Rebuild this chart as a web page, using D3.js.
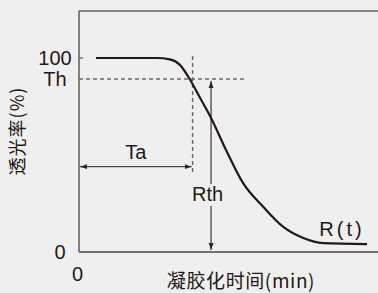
<!DOCTYPE html>
<html>
<head>
<meta charset="utf-8">
<script src="https://cdn.jsdelivr.net/npm/d3@7.9.0/dist/d3.min.js"></script>
<style>
  html, body { margin: 0; padding: 0; background: #efefef; }
  svg { display: block; }
  text { font-family: "Liberation Sans", Arial, sans-serif; fill: #231815; }
  .cjk { font-family: "Noto Sans CJK SC", "Noto Sans", sans-serif; }
</style>
</head>
<body>
<svg id="chart"></svg>
<script>
// gel time (min, arbitrary) vs transmittance (%)
const times = [1.7, 7.8, 9.1, 10.1, 11.1, 12.1, 13.2, 14.75, 16.45, 18.5, 20.5, 22.5, 24.5, 28.9];
const transmit = [100, 100, 99.3, 96.6, 89.2, 79.9, 69.6, 52.6, 35.6, 23.2, 12.9, 7.2, 4.6, 4.1];

const thValue = 89.2;   // Th level
const taValue = 11.4;   // Ta time
const rthTime = 13.25;  // where the Rth arrow stands
const yTickLabels = ["0", "100"];

const width = 378, height = 293;
const margin = { top: 11, left: 79, bottom: 41 };

const svg = d3.select("#chart")
    .attr("width", width)
    .attr("height", height);

const x = d3.scaleLinear().domain([0, 30]).range([margin.left, 378]);
const y = d3.scaleLinear().domain([0, 100]).range([height - margin.bottom, 58]);

const ink = "#231815";
const grey = "#6e6a69";

svg.append("defs").selectAll("marker")
    .data(["arrow"])
    .join("marker")
    .attr("id", d => d)
    .attr("viewBox", "0 0 10 10")
    .attr("refX", 10).attr("refY", 5)
    .attr("markerWidth", 7).attr("markerHeight", 7)
    .attr("markerUnits", "userSpaceOnUse")
    .attr("orient", "auto-start-reverse")
    .append("path")
    .attr("d", "M0,1.5 L10,5 L0,8.5 Z")
    .attr("fill", "#2b2523");

// frame: grey top, dark left + bottom
svg.append("line")
    .attr("x1", x(0)).attr("x2", width)
    .attr("y1", margin.top).attr("y2", margin.top)
    .attr("stroke", "#8a8786").attr("stroke-width", 2);

svg.append("line")
    .attr("x1", x(0)).attr("x2", x(0))
    .attr("y1", margin.top).attr("y2", y(0))
    .attr("stroke", "#4a4442").attr("stroke-width", 1.3);

svg.append("line")
    .attr("x1", x(0)).attr("x2", width)
    .attr("y1", y(0)).attr("y2", y(0))
    .attr("stroke", "#4a4442").attr("stroke-width", 1.3);

// small tick at 100
svg.append("line")
    .attr("x1", x(0)).attr("x2", x(0) + 4)
    .attr("y1", y(100)).attr("y2", y(100))
    .attr("stroke", grey).attr("stroke-width", 1.5);

// Th dashed line
svg.append("line")
    .attr("x1", x(0)).attr("x2", x(16.6))
    .attr("y1", y(thValue)).attr("y2", y(thValue))
    .attr("stroke", grey).attr("stroke-width", 1.5)
    .attr("stroke-dasharray", "4,3");

// Ta vertical dashed line
svg.append("line")
    .attr("x1", x(taValue)).attr("x2", x(taValue))
    .attr("y1", y(101)).attr("y2", y(40))
    .attr("stroke", grey).attr("stroke-width", 1.5)
    .attr("stroke-dasharray", "4,3");

// Ta arrow
svg.append("line")
    .attr("x1", x(0) + 1).attr("x2", x(taValue) - 1)
    .attr("y1", y(44)).attr("y2", y(44))
    .attr("stroke", "#4a4442").attr("stroke-width", 1.3)
    .attr("marker-start", "url(#arrow)")
    .attr("marker-end", "url(#arrow)");

svg.append("text")
    .attr("x", x(taValue / 2)).attr("y", 159)
    .attr("text-anchor", "middle")
    .attr("font-size", 20)
    .text("Ta");

// Rth arrow, split around its label
svg.append("line")
    .attr("x1", x(rthTime)).attr("x2", x(rthTime))
    .attr("y1", 184).attr("y2", y(thValue) + 2)
    .attr("stroke", "#4a4442").attr("stroke-width", 1.3)
    .attr("marker-end", "url(#arrow)");

svg.append("line")
    .attr("x1", x(rthTime)).attr("x2", x(rthTime))
    .attr("y1", 206).attr("y2", y(0) - 2)
    .attr("stroke", "#4a4442").attr("stroke-width", 1.3)
    .attr("marker-end", "url(#arrow)");

svg.append("text")
    .attr("x", 207.5).attr("y", 201)
    .attr("text-anchor", "middle")
    .attr("font-size", 20)
    .text("Rth");

// transmittance curve
const line = d3.line()
    .x((d, i) => x(times[i]))
    .y(d => y(d))
    .curve(d3.curveMonotoneX);

svg.append("path")
    .datum(transmit)
    .attr("d", line)
    .attr("fill", "none")
    .attr("stroke", ink)
    .attr("stroke-width", 2.2);

svg.append("text")
    .attr("x", 342).attr("y", 236)
    .attr("text-anchor", "middle")
    .attr("font-size", 20)
    .attr("letter-spacing", 3)
    .text("R(t)");

// tick labels
svg.append("text")
    .attr("x", 55).attr("y", y(100) + 7)
    .attr("text-anchor", "middle")
    .attr("font-size", 20)
    .text(yTickLabels[1]);

svg.append("text")
    .attr("x", 55).attr("y", 86)
    .attr("text-anchor", "middle")
    .attr("font-size", 20)
    .text("Th");

svg.append("text")
    .attr("x", 60).attr("y", y(0) + 7)
    .attr("text-anchor", "middle")
    .attr("font-size", 20)
    .text(yTickLabels[0]);

svg.append("text")
    .attr("x", x(0) - 1.5).attr("y", 281)
    .attr("text-anchor", "middle")
    .attr("font-size", 20)
    .text("0");

// axis titles
svg.append("text")
    .attr("class", "cjk")
    .attr("x", 241).attr("y", 288)
    .attr("text-anchor", "middle")
    .attr("font-size", 19)
    .attr("letter-spacing", 0.6)
    .text("凝胶化时间(min)");

svg.append("text")
    .attr("class", "cjk")
    .attr("transform", "translate(24,131) rotate(-90)")
    .attr("text-anchor", "middle")
    .attr("font-size", 18)
    .attr("letter-spacing", 1)
    .text("透光率(%)");
</script>
</body>
</html>
